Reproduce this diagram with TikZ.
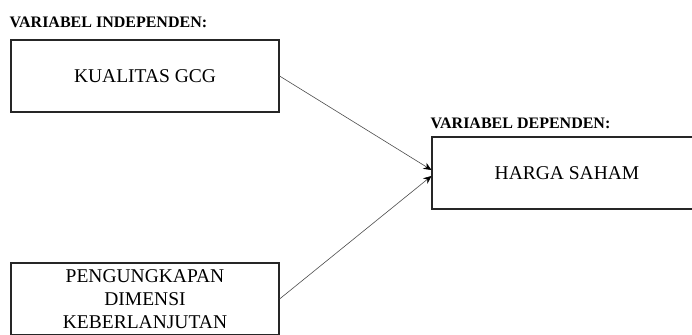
\documentclass[tikz,border=0pt]{standalone}
\usepackage{fontspec}
\setmainfont{Liberation Serif}
\usetikzlibrary{arrows.meta,positioning}

\begin{document}
\begin{tikzpicture}[
    x=1pt, y=1pt,
    varbox/.style={draw=black!85, line width=1.1pt, minimum width=268pt, minimum height=72pt, align=center, inner sep=0pt, font=\fontsize{19.5}{23}\selectfont},
    varlabel/.style={inner sep=0pt, font=\fontsize{16}{18}\selectfont\bfseries},
    arrow/.style={-{Stealth[length=8pt, width=7pt, black]}, black!70, line width=0.6pt}
]
    \useasboundingbox (0,0) rectangle (692,-334);

    \node[varbox] (gcg) at (145,-76) {KUALITAS GCG};
    \node[varbox] (ungkap) at (145,-299) {PENGUNGKAPAN\\DIMENSI\\KEBERLANJUTAN};
    \node[varbox, minimum width=270pt] (harga) at (567,-173) {HARGA SAHAM};

    \node[varlabel, above right=12pt and -1pt of gcg.north west] (indep) {VARIABEL INDEPENDEN:};
    \node[varlabel, above right=8pt and -1pt of harga.north west] (dep) {VARIABEL DEPENDEN:};

    \draw[arrow] (gcg.east) -- ([yshift=3pt]harga.west);
    \draw[arrow] (ungkap.east) -- ([yshift=-3pt]harga.west);
\end{tikzpicture}
\end{document}
